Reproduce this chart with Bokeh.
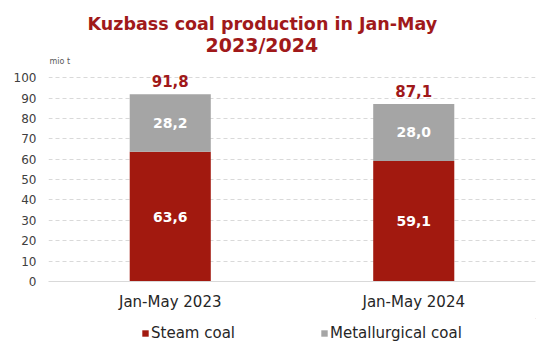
from bokeh.plotting import figure
from bokeh.layouts import column
from bokeh.models import ColumnDataSource, Legend, LegendItem, FixedTicker, Title, Range1d
from bokeh.core.properties import value
from bokeh.embed import file_html
from bokeh.resources import INLINE

periods = ["Jan-May 2023", "Jan-May 2024"]
steam = [63.6, 59.1]
metallurgical = [28.2, 28.0]
totals = [91.8, 87.1]
y_ticks = [0, 10, 20, 30, 40, 50, 60, 70, 80, 90, 100]
series_names = ["Steam coal", "Metallurgical coal"]

RED = "#A2190F"
GREY = "#A5A5A5"
TITLE_RED = "#A0191A"
FONT = "DejaVu Sans"

def fmt(v):
    return f"{v:.1f}".replace(".", ",")

src = ColumnDataSource(dict(
    period=periods,
    steam=steam,
    met=metallurgical,
    total=totals,
    steam_mid=[s / 2 for s in steam],
    met_mid=[s + m / 2 for s, m in zip(steam, metallurgical)],
    steam_lbl=[fmt(v) for v in steam],
    met_lbl=[fmt(v) for v in metallurgical],
    total_lbl=[fmt(v) for v in totals],
))

# y range runs a little past 100 so the top value label is not clipped
p = figure(x_range=periods, y_range=(0, 104), width=554, height=318,
           output_backend="svg", toolbar_location=None,
           min_border_left=48, min_border_right=19, min_border_top=69, min_border_bottom=37)
p.title = None
p.outline_line_color = None
p.background_fill_color = "white"
p.border_fill_color = "white"

p.vbar(x="period", bottom=0, top="steam", width=0.333, source=src,
       fill_color=RED, line_color=None)
p.vbar(x="period", bottom="steam", top="total", width=0.333, source=src,
       fill_color=GREY, line_color=None)

p.text(x="period", y="steam_mid", text="steam_lbl", source=src, text_color="white",
       text_font=value(FONT), text_font_style="bold", text_font_size="14px",
       text_align="center", text_baseline="middle")
p.text(x="period", y="met_mid", text="met_lbl", source=src, text_color="white",
       text_font=value(FONT), text_font_style="bold", text_font_size="14px",
       text_align="center", text_baseline="middle")
p.text(x="period", y="total", text="total_lbl", source=src, text_color=TITLE_RED,
       text_font=value(FONT), text_font_style="bold", text_font_size="15px",
       text_align="center", text_baseline="bottom", y_offset=-7)

# axes
p.yaxis.ticker = FixedTicker(ticks=y_ticks)
p.yaxis.axis_line_color = None
p.yaxis.major_tick_line_color = None
p.yaxis.minor_tick_line_color = None
p.yaxis.major_tick_out = 0
p.yaxis.major_label_text_font = FONT
p.yaxis.major_label_text_font_size = "12px"
p.yaxis.major_label_text_color = "#404040"
p.yaxis.major_label_standoff = 12

p.xaxis.axis_line_color = "#D9D9D9"
p.xaxis.axis_line_width = 1
p.xaxis.major_tick_line_color = None
p.xaxis.minor_tick_line_color = None
p.xaxis.major_label_text_font = FONT
p.xaxis.major_label_text_font_size = "15px"
p.xaxis.major_label_text_color = "#262626"
p.xaxis.major_label_standoff = 5

p.xgrid.grid_line_color = None
p.ygrid.grid_line_color = "#D9D9D9"
p.ygrid.grid_line_dash = "4 3"

# unit + titles (added closest-to-frame first)
p.add_layout(Title(text="mio t", align="left", text_font=FONT, text_font_size="8px",
                   text_font_style="normal", text_color="#595959",
                   standoff=8, offset=1), "above")
p.add_layout(Title(text="2023/2024", align="left", text_font=FONT,
                   text_font_size="19px", text_font_style="bold", text_color=TITLE_RED,
                   standoff=-11, offset=157), "above")
p.add_layout(Title(text="Kuzbass coal production  in Jan-May", align="left",
                   text_font=FONT, text_font_size="17.5px", text_font_style="bold",
                   text_color=TITLE_RED, standoff=8, offset=39), "above")

# legend strip below the chart
lg = figure(width=554, height=40, output_backend="svg", toolbar_location=None,
            x_range=Range1d(0, 1), y_range=Range1d(0, 1),
            x_axis_location=None, y_axis_location=None,
            min_border_left=0, min_border_right=0, min_border_top=0, min_border_bottom=0)
lg.title = None
lg.grid.visible = False
lg.outline_line_color = None
lg.border_fill_color = "white"
lg.background_fill_color = "white"
# swatch renderers sit outside the visible range; only their legend glyphs show
lg_src = ColumnDataSource(dict(x=[5], top=[5]))
r1 = lg.vbar(x="x", top="top", bottom=4, width=0.1, source=lg_src, fill_color=RED, line_color=None)
r2 = lg.vbar(x="x", top="top", bottom=4, width=0.1, source=lg_src, fill_color=GREY, line_color=None)
legend = Legend(items=[LegendItem(label=series_names[0], renderers=[r1]),
                       LegendItem(label=series_names[1], renderers=[r2])],
                orientation="horizontal", location=(93, 16),
                glyph_width=8, glyph_height=8, label_standoff=2, spacing=85,
                padding=0, margin=0, border_line_color=None,
                background_fill_alpha=0,
                label_text_font=FONT, label_text_font_size="15px",
                label_text_color="#262626")
lg.add_layout(legend, "center")

layout = column(p, lg, spacing=0)
open("out.html", "w").write(file_html(layout, INLINE))
